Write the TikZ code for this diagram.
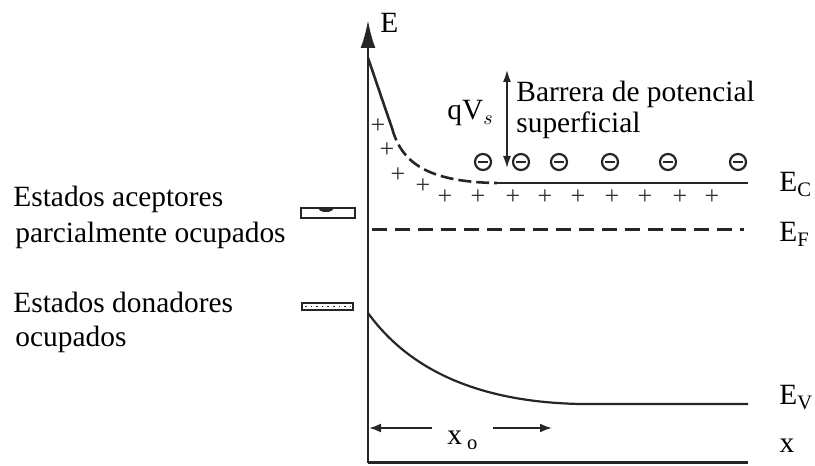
\documentclass[tikz,border=0pt]{standalone}
\usepackage{fontspec}
\setmainfont{Liberation Serif}
\usetikzlibrary{arrows.meta}

\begin{document}
\begin{tikzpicture}[x=0.5pt,y=0.5pt,>=Latex,
  lbl/.style={font=\fontsize{14.7}{18}\selectfont,inner sep=0pt,anchor=base west},
  band/.style={line width=1.3pt,black!85},
  plus/.style={font=\fontsize{13}{13}\selectfont,inner sep=0pt,black!80},
  level/.style={draw=black!85,line width=1.1pt,fill=white,minimum width=27pt,inner sep=0pt}]
  \useasboundingbox (0,0) rectangle (815,466);
  \coordinate (O) at (368,3);
  \coordinate (Etop) at (368,446);
  \coordinate (Xend) at (748,3);
  \draw[band,line width=1.3pt,-{Latex[length=14pt,width=7.5pt]}] (O) -- (Etop);
  \draw[band,line width=1.5pt] (O) -- (Xend);
  \node[lbl] (E) at (380,433) {E};
  % conduction band
  \coordinate (C0) at (368,408);
  \coordinate (C1) at (392,338);
  \coordinate (C2) at (497,283);
  \coordinate (C3) at (748,283);
  \draw[band] (C0) .. controls (376,385) and (385,358) .. (C1);
  \draw[band,dash pattern=on 6.5pt off 2.5pt] (C1) .. controls (401,305) and (425,284) .. (C2);
  \draw[band] (C2) -- (C3);
  \node[lbl] (EC) at (779,274) {E\textsubscript{C}};
  % fermi level
  \coordinate (F0) at (372,236);
  \coordinate (F1) at (744,236);
  \draw[band,line width=1.5pt,dash pattern=on 7.5pt off 4pt] (F0) -- (F1);
  \node[lbl] (EF) at (779,224) {E\textsubscript{F}};
  % valence band
  \coordinate (V0) at (368,153);
  \coordinate (V1) at (580,62);
  \coordinate (V2) at (748,62);
  \draw[band,line width=1.1pt] (V0) .. controls (410,95) and (480,64) .. (V1) -- (V2);
  \node[lbl] (EV) at (779,61) {E\textsubscript{V}};
  \node[lbl,anchor=base] (xlab) at (787,13) {x};
  % charges
  \foreach \x/\y [count=\i] in {378/340,387/316,398/291,423/280,445/269,478/269,513/269,545/269,578/269,612/269,645/269,680/269,712/269}
    \node[plus] (p\i) at (\x,\y) {+};
  \foreach \x [count=\i] in {483,521,559,610,668,738} {
    \draw[black!85,line width=1.1pt] (\x,304) circle (8);
    \draw[black!85,line width=1.1pt] (\x-5,304) -- (\x+5,304);
  }
  % barrier
  \node[lbl] (qvs) at (447,346) {qV$_s$};
  \coordinate (bTop) at (507,396);
  \coordinate (bBot) at (507,298);
  \draw[black!85,line width=0.8pt,{Latex[length=6pt,width=4pt]}-{Latex[length=6pt,width=4pt]}] (bBot) -- (bTop);
  \node[lbl] (barr) at (516,364) {Barrera de potencial};
  \node[lbl] (surf) at (516,333) {superficial};
  % width of the charged region
  \node[lbl] (xo) at (447,21) {x\,\textsubscript{o}};
  \coordinate (xoA) at (432,38);
  \coordinate (xoL) at (369,38);
  \coordinate (xoB) at (493,38);
  \coordinate (xoR) at (552,38);
  \draw[black!85,line width=1pt,-{Latex[length=6pt,width=4.5pt]}] (xoA) -- (xoL);
  \draw[black!85,line width=1pt,-{Latex[length=6pt,width=4.5pt]}] (xoB) -- (xoR);
  % surface states
  \node[level,minimum height=5pt] (acc) at (328,253) {};
  \fill[black!85] (319,257) arc[start angle=180,end angle=360,x radius=7,y radius=3] -- cycle;
  \node[level,minimum height=3.5pt,minimum width=25.5pt] (don) at (327.5,159.5) {};
  \draw[black!85,line width=0.8pt,dotted] ([xshift=2pt]don.west) -- ([xshift=-2pt]don.east);
  \node[lbl] (acc1) at (13,259) {Estados aceptores};
  \node[lbl] (acc2) at (15,223) {parcialmente ocupados};
  \node[lbl] (don1) at (13,153) {Estados donadores};
  \node[lbl] (don2) at (15,119) {ocupados};
\end{tikzpicture}
\end{document}
